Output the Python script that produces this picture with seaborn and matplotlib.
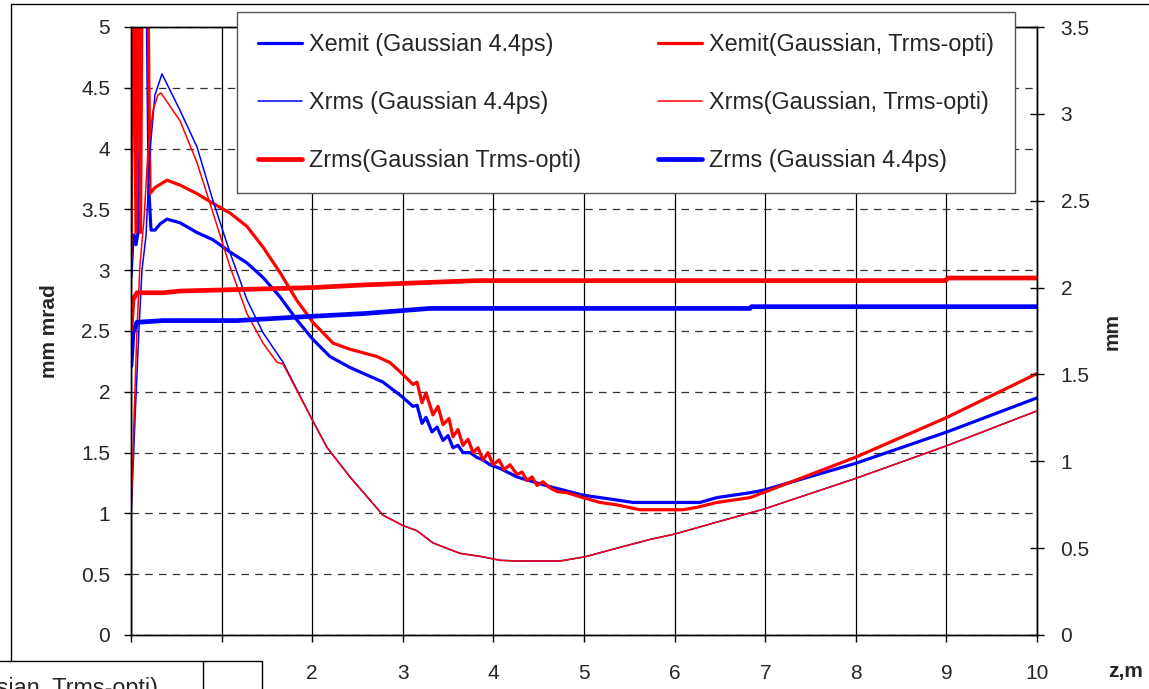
import numpy as np
import pandas as pd
import matplotlib
matplotlib.use("Agg")
import matplotlib.pyplot as plt
import seaborn as sns
from matplotlib.patches import Rectangle
from matplotlib.lines import Line2D

# ---------------- data ----------------
# Xemit, Gaussian 4.4ps (mm mrad, left axis)
z_xemit_g = [0.000, 0.017, 0.033, 0.055, 0.077, 0.099, 0.121, 0.155, 0.177, 0.199, 0.221, 0.265,
             0.320, 0.397, 0.541, 0.728, 0.905, 1.093, 1.280, 1.457, 1.645, 1.832, 2.009, 2.196,
             2.417, 2.781, 2.991, 3.113, 3.157, 3.212, 3.256, 3.322, 3.377, 3.444, 3.499, 3.554,
             3.609, 3.664, 3.742, 3.819, 3.885, 3.962, 4.073, 4.260, 4.437, 4.625, 4.989, 5.364,
             5.541, 6.093, 6.280, 6.468, 6.832, 6.976, 7.991, 9.007, 10.0]
v_xemit_g = [2.94, 3.19, 3.29, 3.21, 3.31, 3.99, 5.3, 5.3, 5.3, 3.63, 3.33, 3.33,
             3.38, 3.42, 3.39, 3.31, 3.25, 3.15, 3.06, 2.94, 2.78, 2.59, 2.43, 2.29,
             2.20, 2.08, 1.96, 1.88, 1.89, 1.74, 1.79, 1.67, 1.71, 1.60, 1.64, 1.54,
             1.56, 1.50, 1.50, 1.46, 1.44, 1.40, 1.37, 1.30, 1.26, 1.22, 1.15, 1.11,
             1.09, 1.09, 1.09, 1.13, 1.17, 1.19, 1.41, 1.67, 1.95]

# Xemit, Gaussian Trms-opti (mm mrad, left axis)
z_xemit_t = [0.000, 0.022, 0.033, 0.055, 0.072, 0.088, 0.105, 0.121, 0.166, 0.188, 0.210, 0.265,
             0.397, 0.541, 0.728, 0.905, 1.093, 1.280, 1.457, 1.645, 1.832, 2.009, 2.230, 2.417,
             2.715, 2.859, 2.991, 3.113, 3.157, 3.212, 3.256, 3.333, 3.389, 3.444, 3.510, 3.554,
             3.609, 3.664, 3.720, 3.775, 3.830, 3.885, 3.940, 3.996, 4.062, 4.117, 4.183, 4.260,
             4.316, 4.371, 4.426, 4.481, 4.547, 4.625, 4.702, 4.812, 4.989, 5.177, 5.364, 5.618,
             6.093, 6.247, 6.468, 6.832, 6.976, 7.991, 9.007, 10.0]
v_xemit_t = [3.10, 5.3, 5.3, 3.31, 5.3, 5.3, 3.31, 5.3, 5.3, 5.3, 3.63, 3.68,
             3.74, 3.70, 3.63, 3.55, 3.47, 3.36, 3.19, 2.98, 2.75, 2.57, 2.40, 2.35,
             2.29, 2.24, 2.15, 2.06, 2.08, 1.91, 1.99, 1.81, 1.88, 1.73, 1.78, 1.63,
             1.69, 1.56, 1.61, 1.50, 1.54, 1.44, 1.50, 1.40, 1.44, 1.36, 1.40, 1.32,
             1.34, 1.27, 1.30, 1.23, 1.26, 1.21, 1.18, 1.17, 1.13, 1.09, 1.07, 1.03,
             1.03, 1.05, 1.09, 1.13, 1.17, 1.46, 1.79, 2.15]

# Xrms, Gaussian 4.4ps (mm, right axis)
z_xrms_g = [0.000, 0.044, 0.088, 0.121, 0.166, 0.210, 0.265, 0.342, 0.541, 0.728, 0.905, 1.093,
            1.280, 1.457, 1.678, 2.009, 2.163, 2.417, 2.781, 3.002, 3.157, 3.333, 3.631, 3.885,
            4.073, 4.260, 4.735, 5.011, 5.364, 5.728, 5.993, 6.468, 6.987, 7.991, 9.007, 10.0]
v_xrms_g = [0.66, 1.24, 1.76, 2.10, 2.30, 2.79, 3.11, 3.23, 3.02, 2.81, 2.50, 2.20,
            1.93, 1.74, 1.57, 1.23, 1.08, 0.91, 0.69, 0.63, 0.60, 0.53, 0.47, 0.45,
            0.43, 0.426, 0.426, 0.45, 0.50, 0.55, 0.58, 0.65, 0.725, 0.90, 1.09, 1.29]

# Xrms, Gaussian Trms-opti (mm, right axis)
z_xrms_t = [0.000, 0.033, 0.066, 0.099, 0.143, 0.188, 0.243, 0.298, 0.331, 0.541, 0.728, 0.905,
            1.093, 1.280, 1.457, 1.611, 1.678, 2.009, 2.163, 2.417, 2.781, 3.002, 3.157, 3.333,
            3.631, 3.885, 4.073, 4.260, 4.735, 5.011, 5.364, 5.728, 5.993, 6.468, 6.987, 7.991,
            9.007, 10.0]
v_xrms_t = [0.69, 1.24, 1.76, 2.13, 2.39, 2.79, 3.02, 3.11, 3.12, 2.96, 2.72, 2.43,
            2.12, 1.85, 1.68, 1.57, 1.56, 1.23, 1.08, 0.91, 0.69, 0.63, 0.60, 0.53,
            0.47, 0.45, 0.43, 0.426, 0.426, 0.45, 0.50, 0.55, 0.58, 0.65, 0.725, 0.90,
            1.09, 1.29]

# Zrms, Gaussian Trms-opti (mm, right axis)
z_zrms_t = [0.000, 0.022, 0.066, 0.353, 0.541, 1.280, 2.009, 2.561, 3.300, 3.819, 6.280, 8.985, 9.020, 10.0]
v_zrms_t = [1.76, 1.93, 1.97, 1.97, 1.98, 1.99, 2.00, 2.015, 2.03, 2.04, 2.04, 2.04, 2.055, 2.055]

# Zrms, Gaussian 4.4ps (mm, right axis)
z_zrms_g = [0.000, 0.022, 0.066, 0.353, 1.170, 1.832, 2.561, 3.300, 4.073, 6.832, 6.850, 10.0]
v_zrms_g = [1.55, 1.74, 1.80, 1.81, 1.81, 1.83, 1.85, 1.88, 1.88, 1.88, 1.89, 1.89]

labels = {
    "xemit_g": "Xemit (Gaussian 4.4ps)",
    "xemit_t": "Xemit(Gaussian, Trms-opti)",
    "xrms_g": "Xrms (Gaussian 4.4ps)",
    "xrms_t": "Xrms(Gaussian, Trms-opti)",
    "zrms_t": "Zrms(Gaussian Trms-opti)",
    "zrms_g": "Zrms (Gaussian 4.4ps)",
}
x_ticks = [0, 1, 2, 3, 4, 5, 6, 7, 8, 9, 10]
# labels 0 and 1 are hidden behind the cut-off box in the original picture
x_ticklabels = ["", "", "2", "3", "4", "5", "6", "7", "8", "9", "10"]
left_ticks = [0, 0.5, 1, 1.5, 2, 2.5, 3, 3.5, 4, 4.5, 5]
right_ticks = [0, 0.5, 1, 1.5, 2, 2.5, 3, 3.5]

# ---------------- style ----------------
sns.set_style("white")
plt.rcParams["font.family"] = ["Liberation Sans", "DejaVu Sans"]

BLUE = "#0000FF"
RED = "#FF0000"
W, H = 1149, 689

fig = plt.figure(figsize=(W / 100, H / 100), dpi=100)
ax = fig.add_axes([131 / W, (H - 635) / H, 906 / W, 608 / H])
ax2 = ax.twinx()

def draw(axis, z, v, color, lw):
    df = pd.DataFrame({"z": z, "v": v})
    sns.lineplot(data=df, x="z", y="v", ax=axis, color=color, linewidth=lw,
                 estimator=None, sort=False, legend=False)
    line = axis.lines[-1]
    line.set_solid_joinstyle("round")
    return line

l_xe_g = draw(ax, z_xemit_g, v_xemit_g, BLUE, 2.3)
l_xe_t = draw(ax, z_xemit_t, v_xemit_t, RED, 2.3)
l_xr_g = draw(ax2, z_xrms_g, v_xrms_g, BLUE, 1.1)
l_xr_t = draw(ax2, z_xrms_t, v_xrms_t, RED, 1.1)
l_zr_g = draw(ax2, z_zrms_g, v_zrms_g, BLUE, 3.4)
l_zr_t = draw(ax2, z_zrms_t, v_zrms_t, RED, 3.4)

ax.set_xlim(0, 10)
ax.set_ylim(0, 5)
ax2.set_ylim(0, 3.5)

ax.set_xticks(x_ticks)
ax.set_xticklabels(x_ticklabels)
ax.set_yticks(left_ticks)
ax.set_yticklabels([("%g" % t) for t in left_ticks])
ax2.set_yticks(right_ticks)
ax2.set_yticklabels([("%g" % t) for t in right_ticks])

FS = 15
LFS = 16.8
ax.tick_params(axis="x", direction="out", length=5, width=1, color="black",
               labelsize=FS, pad=16, bottom=True)
ax.tick_params(axis="y", direction="out", length=5, width=1, color="black",
               labelsize=FS, pad=10, left=True)
ax2.tick_params(axis="y", direction="inout", length=10, width=1, color="black",
                labelsize=FS, pad=12, right=True)

ax.set_xlabel("")
ax.set_ylabel("mm mrad", fontsize=FS, fontweight="bold", labelpad=16)
ax2.set_ylabel("mm", fontsize=FS, fontweight="bold", labelpad=9)

ax.set_axisbelow(True)
ax.yaxis.grid(True, linestyle=(0, (6, 5)), color="#333333", linewidth=0.9)
ax.xaxis.grid(True, linestyle="-", color="black", linewidth=0.9)
ax2.grid(False)

for a in (ax, ax2):
    for s in a.spines.values():
        s.set_visible(True)
        s.set_color("black")
        s.set_linewidth(1.0)

fig.text(1126 / W, 1 - 672 / H, "z,m", fontsize=FS, fontweight="bold",
         ha="center", va="center")

# legend
handles = [l_xe_g, l_xr_g, l_zr_t, l_xe_t, l_xr_t, l_zr_g]
names = [labels["xemit_g"], labels["xrms_g"], labels["zrms_t"],
         labels["xemit_t"], labels["xrms_t"], labels["zrms_g"]]
leg = fig.legend(handles, names, ncol=2, loc="upper left",
                 bbox_to_anchor=(237 / W, 1 - 12 / H),
                 bbox_transform=fig.transFigure,
                 fontsize=LFS, frameon=True, fancybox=False, framealpha=1,
                 edgecolor="#555555", facecolor="white", borderaxespad=0,
                 handlelength=1.9, handletextpad=0.28, labelspacing=1.5,
                 borderpad=0.9, columnspacing=3.3)
leg.get_frame().set_linewidth(1.0)

# outer chart frame (partial) and cut-off box at bottom left
fig.add_artist(Line2D([11 / W, 1.0], [1 - 4 / H, 1 - 4 / H], transform=fig.transFigure,
                      color="black", linewidth=1.0))
fig.add_artist(Line2D([11 / W, 11 / W], [1 - 4 / H, 1 - 661 / H], transform=fig.transFigure,
                      color="black", linewidth=1.0))
box = Rectangle((-5 / W, -0.05), (262 + 5) / W, (H - 661) / H + 0.05, transform=fig.transFigure,
                facecolor="white", edgecolor="black", linewidth=1.0, zorder=10)
fig.add_artist(box)
fig.add_artist(Line2D([203 / W, 203 / W], [0, 1 - 661 / H], transform=fig.transFigure,
                      color="black", linewidth=1.0, zorder=11))
fig.text(158 / W, 1 - 677 / H, "Xemit(Gaussian, Trms-opti)", fontsize=LFS,
         ha="right", va="top", zorder=12)

fig.savefig("out.png", dpi=100, facecolor="white")
